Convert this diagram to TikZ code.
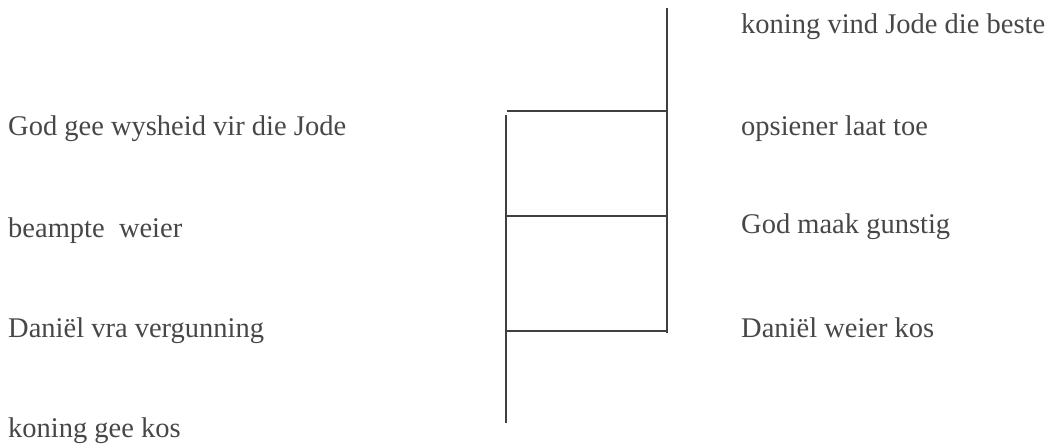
\documentclass[tikz,border=0pt]{standalone}
\usepackage{fontspec}
\setmainfont{Liberation Serif}
\begin{document}
\begin{tikzpicture}[x=1pt,y=-1pt,
  lbl/.style={anchor=base west,inner sep=0pt,text=black!72,font=\fontsize{28.5}{34}\selectfont},
  ln/.style={draw=black!75,line width=1.6pt}]
\useasboundingbox (0,0) rectangle (1048,447);
% labels left
\node[lbl] (l1) at (8,135) {God gee wysheid vir die Jode};
\node[lbl] (l2) at (8,237) {beampte\ \ weier};
\node[lbl] (l3) at (8,337) {Daniël vra vergunning};
\node[lbl] (l4) at (8,437) {koning gee kos};
% labels right
\node[lbl] (r1) at (741,33) {koning vind Jode die beste};
\node[lbl] (r2) at (741,135) {opsiener laat toe};
\node[lbl] (r3) at (741,233) {God maak gunstig};
\node[lbl] (r4) at (741,337) {Daniël weier kos};
% structure
\coordinate (rt) at (667,8);
\coordinate (rb) at (667,333);
\coordinate (ht) at (507,111);
\coordinate (rh) at (667,111);
\coordinate (lt) at (506,115);
\coordinate (lb) at (506,423);
\coordinate (ml) at (506,216);
\coordinate (mr) at (666,216);
\coordinate (bl) at (506,331);
\coordinate (br) at (666,331);
\draw[ln] (rt) -- (rb);
\draw[ln] (ht) -- (rh);
\draw[ln] (lt) -- (lb);
\draw[ln] (ml) -- (mr);
\draw[ln] (bl) -- (br);
\end{tikzpicture}
\end{document}
